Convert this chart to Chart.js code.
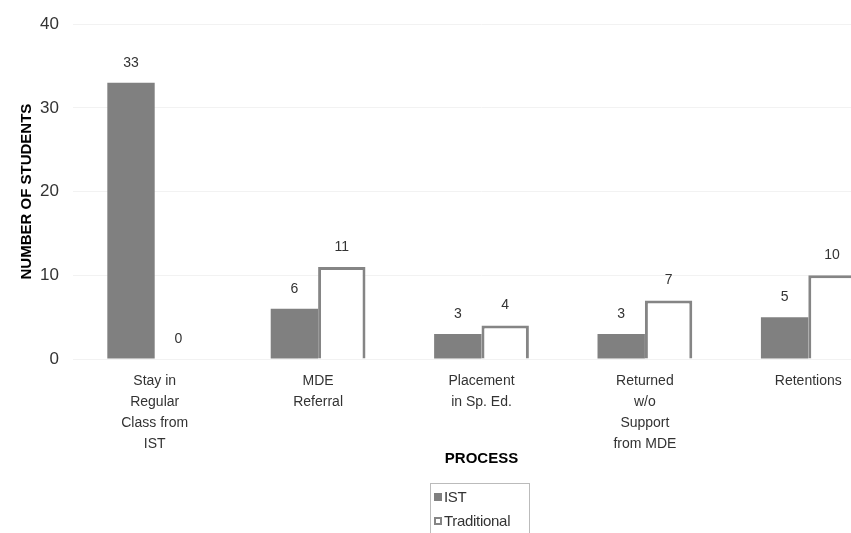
<!DOCTYPE html>
<html>
<head>
<meta charset="utf-8">
<script src="https://cdn.jsdelivr.net/npm/chart.js@4"></script>
<style>
    html, body { margin: 0; padding: 0; background: #fff; overflow: hidden; }
    #wrap { position: relative; width: 851px; height: 533px; overflow: hidden; }
    #chart { position: absolute; left: 0; top: 0; }
    #legend {
        position: absolute; left: 430px; top: 483px; width: 100px; height: 52px;
        border: 1px solid #bbb; box-sizing: border-box;
        font-family: "Liberation Sans", Arial, sans-serif;
        font-size: 15px; color: #333; padding: 2px 0 0 3px; letter-spacing: -0.3px;
    }
    #legend div { height: 24px; line-height: 22px; }
    #legend span.box { display: inline-block; width: 8px; height: 8px; margin-right: 2px; box-sizing: border-box; vertical-align: 1px; }
</style>
</head>
<body>
<div id="wrap">
    <canvas id="chart" width="890" height="533"></canvas>
    <div id="legend"></div>
</div>
<script>
const categories = [
    ['Stay in', 'Regular', 'Class from', 'IST'],
    ['MDE', 'Referral'],
    ['Placement', 'in Sp. Ed.'],
    ['Returned', 'w/o', 'Support', 'from MDE'],
    ['Retentions']
];
const istValues = [33, 6, 3, 3, 5];
const traditionalValues = [0, 11, 4, 7, 10];
const yTicks = [0, 10, 20, 30, 40];

const plainFont = '"Liberation Sans", Arial, sans-serif';

// draws the numbers above each bar
const valueLabels = {
    id: 'valueLabels',
    afterDatasetsDraw(chart) {
        const ctx = chart.ctx;
        ctx.save();
        ctx.font = '14px ' + plainFont;
        ctx.fillStyle = '#333';
        ctx.textAlign = 'center';
        ctx.textBaseline = 'bottom';
        chart.data.datasets.forEach((ds, i) => {
            chart.getDatasetMeta(i).data.forEach((bar, j) => {
                ctx.fillText(String(ds.data[j]), bar.x, bar.y - 13);
            });
        });
        ctx.restore();
    }
};

const chart = new Chart(document.getElementById('chart'), {
    type: 'bar',
    data: {
        labels: categories,
        datasets: [{
            label: 'IST',
            data: istValues,
            backgroundColor: '#808080',
            borderWidth: 0
        },
        {
            label: 'Traditional',
            data: traditionalValues,
            backgroundColor: '#ffffff',
            borderColor: '#858585',
            borderWidth: 3,
            borderSkipped: 'bottom'
        }]
    },
    plugins: [valueLabels],
    options: {
        responsive: false,
        animation: false,
        layout: {
            padding: { top: 16, bottom: 61, left: 14, right: 0 }
        },
        plugins: {
            legend: { display: false },
            tooltip: { enabled: false }
        },
        datasets: {
            bar: { barPercentage: 1, categoryPercentage: 0.58 }
        },
        scales: {
            x: {
                grid: { display: false },
                border: { display: false },
                ticks: {
                    color: '#333',
                    font: { size: 14, family: plainFont, lineHeight: 1.5 },
                    maxRotation: 0,
                    padding: 4
                },
                title: {
                    display: true,
                    text: 'PROCESS',
                    color: '#000',
                    font: { size: 15, weight: 'bold', family: plainFont },
                    padding: { top: -9 }
                }
            },
            y: {
                min: 0,
                max: 40,
                afterBuildTicks: axis => {
                    axis.ticks = yTicks.map(v => ({ value: v }));
                },
                afterFit: axis => {
                    axis.width = 59;
                },
                grid: { color: '#f2f2f2', drawTicks: false },
                border: { display: false },
                ticks: {
                    color: '#333',
                    font: { size: 17, family: plainFont },
                    padding: 14
                },
                title: {
                    display: true,
                    text: 'NUMBER OF STUDENTS',
                    color: '#000',
                    font: { size: 15, weight: 'bold', family: plainFont },
                    padding: { top: 4, bottom: 0 }
                }
            }
        }
    }
});

const legendEl = document.getElementById('legend');
chart.data.datasets.forEach(ds => {
    const row = document.createElement('div');
    const box = document.createElement('span');
    box.className = 'box';
    box.style.background = ds.backgroundColor;
    if (ds.borderWidth) box.style.border = '2px solid ' + ds.borderColor;
    row.appendChild(box);
    row.appendChild(document.createTextNode(ds.label));
    legendEl.appendChild(row);
});
</script>
</body>
</html>
